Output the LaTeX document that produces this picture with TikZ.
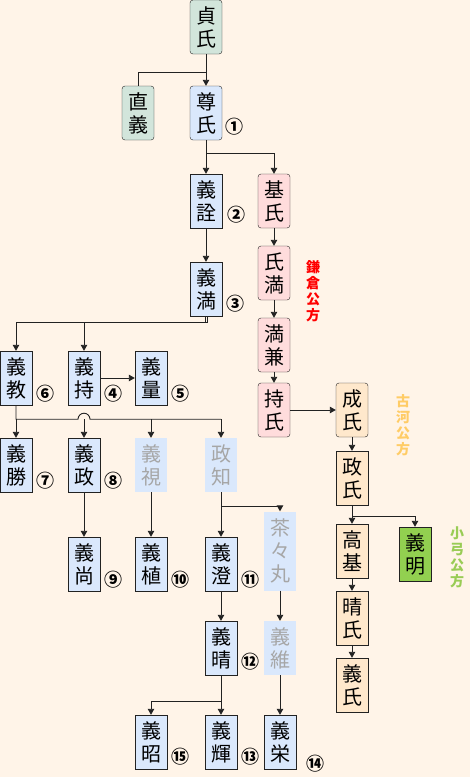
\documentclass[tikz,border=0pt]{standalone}
\usepackage{fontspec}
\setmainfont{Noto Sans CJK JP}
\usetikzlibrary{arrows.meta,positioning,calc}
\definecolor{paper}{HTML}{FFF4E8}
\definecolor{ashiblue}{HTML}{DAE8FC}
\definecolor{ashigreen}{HTML}{D2E5DB}
\definecolor{kamapink}{HTML}{FFDCDC}
\definecolor{kogaorange}{HTML}{FFE8CC}
\definecolor{oyumigreen}{HTML}{92D050}
\definecolor{linegray}{HTML}{222222}
\definecolor{fadetext}{HTML}{A6A6A6}
\definecolor{kamalabel}{HTML}{FF0000}
\definecolor{kogalabel}{HTML}{FFCC66}
\definecolor{oyumilabel}{HTML}{99CC55}

\begin{document}
\begin{tikzpicture}[x=1pt, y=-1pt,
  box/.style={draw=linegray, fill=ashiblue, minimum width=32pt, minimum height=54pt, inner sep=0pt, align=center, font=\fontsize{20}{23}\selectfont},
  rbox/.style={box, rounded corners=3pt},
  rootbox/.style={rbox, fill=ashigreen},
  kamabox/.style={rbox, fill=kamapink},
  kogabox/.style={box, fill=kogaorange},
  oyumibox/.style={box, fill=oyumigreen},
  fadebox/.style={box, draw=none, text=fadetext},
  num/.style={font=\fontsize{18}{18}\selectfont\bfseries, inner sep=0pt},
  kubo/.style={align=center, font=\fontsize{14}{16}\selectfont\bfseries},
  line/.style={line width=0.9pt, color=linegray},
  arr/.style={line, -{Triangle[width=6.5pt,length=6pt]}}
]
\useasboundingbox[fill=paper] (0,0) rectangle (470,777);

% Ashikaga shogun line
\node[rootbox] (sadauji) at (206,27) {貞\\氏};
\node[rootbox] (tadayoshi) at (138,113) {直\\義};
\node[rbox] (takauji) at (206,113) {尊\\氏};
\node[box] (yoshiakira) at (206,201) {義\\詮};
\node[box] (yoshimitsu) at (206,289) {義\\満};
\node[box] (yoshinori) at (16,378) {義\\教};
\node[box] (yoshimochi) at (84,378) {義\\持};
\node[box] (yoshikazu) at (151,378) {義\\量};
\node[box] (yoshikatsu) at (16,465) {義\\勝};
\node[box] (yoshimasa) at (84,465) {義\\政};
\node[fadebox] (yoshimi) at (151,465) {義\\視};
\node[fadebox] (masatomo) at (221,465) {政\\知};
\node[box] (yoshihisa) at (84,564) {義\\尚};
\node[box] (yoshitane) at (151,564) {義\\植};
\node[box] (yoshizumi) at (221,564) {義\\澄};
\node[fadebox, minimum height=79pt] (chachamaru) at (280,551) {茶\\々\\丸};
\node[box] (yoshiharu) at (221,648) {義\\晴};
\node[fadebox] (yoshitsuna) at (280,648) {義\\維};
\node[box] (yoshiteru) at (221,742) {義\\輝};
\node[box] (yoshihide) at (280,742) {義\\栄};
\node[box] (yoshiaki) at (151,742) {義\\昭};

% Kamakura kubo
\node[kamabox] (motouji) at (274,201) {基\\氏};
\node[kamabox] (ujimitsu) at (274,273) {氏\\満};
\node[kamabox] (mitsukane) at (274,345) {満\\兼};
\node[kamabox] (mochiuji) at (274,410) {持\\氏};

% Koga kubo and Oyumi kubo
\node[kogabox, rounded corners=3pt] (shigeuji) at (352,410) {成\\氏};
\node[kogabox] (masauji) at (352,478) {政\\氏};
\node[kogabox] (takamoto) at (352,551) {高\\基};
\node[kogabox] (haruuji) at (352,618) {晴\\氏};
\node[kogabox] (yoshiuji) at (352,685) {義\\氏};
\node[oyumibox] (oyumi) at (415,554) {義\\明};

\node[kubo, text=kamalabel] (kamakura) at (313,291) {鎌\\倉\\公\\方};
\node[kubo, text=kogalabel] (koga) at (403,425) {古\\河\\公\\方};
\node[kubo, text=oyumilabel] (oyumilab) at (457,557) {小\\弓\\公\\方};

% shogun numbers
\node[num] (n1) at (234,127) {①};
\node[num] (n2) at (236,215) {②};
\node[num] (n3) at (235,304) {③};
\node[num] (n4) at (113,394) {④};
\node[num] (n5) at (180,394) {⑤};
\node[num] (n6) at (45,394) {⑥};
\node[num] (n7) at (45,481) {⑦};
\node[num] (n8) at (113,481) {⑧};
\node[num] (n9) at (113,580) {⑨};
\node[num] (n10) at (180,580) {⑩};
\node[num] (n11) at (250,580) {⑪};
\node[num] (n12) at (250,662) {⑫};
\node[num] (n13) at (250,757) {⑬};
\node[num] (n14) at (315,764) {⑭};
\node[num] (n15) at (180,757) {⑮};

% connectors
\draw[arr] (sadauji) -- (takauji);
\draw[line] (sadauji.south) -- ++(0,18) -| (tadayoshi.north);
\draw[arr] (takauji) -- (yoshiakira);
\draw[arr] (takauji.south) -- ++(0,13) -| (motouji.north);
\draw[arr] (yoshiakira) -- (yoshimitsu);
\draw[arr] ([xshift=-1pt]yoshimitsu.south) -- ++(0,6) -| (yoshinori.north);
\draw[arr] ([xshift=1pt]yoshimitsu.south) -- ++(0,6) -| (yoshimochi.north);
\draw[arr] (yoshimochi) -- (yoshikazu);
\draw[arr] (motouji) -- (ujimitsu);
\draw[arr] (ujimitsu) -- (mitsukane);
\draw[arr] (mitsukane) -- (mochiuji);
\draw[arr] (mochiuji) -- (shigeuji);
\coordinate (kyo) at ($(yoshinori.south)+(0,14)$);
\draw[line] (yoshinori.south) -- (kyo) -- ([xshift=-6pt]kyo -| yoshimasa.north)
  arc[start angle=180, end angle=0, radius=6pt] -- (kyo -| masatomo.north);
\draw[arr] (kyo) -- (yoshikatsu.north);
\draw[arr] (kyo -| yoshimasa.north) -- (yoshimasa.north);
\draw[arr] (kyo -| yoshimi.north) -- (yoshimi.north);
\draw[arr] (kyo -| masatomo.north) -- (masatomo.north);
\draw[arr] (yoshimasa) -- (yoshihisa);
\draw[arr] (yoshimi) -- (yoshitane);
\draw[arr] (masatomo) -- (yoshizumi);
\draw[arr] (masatomo.south) -- ++(0,14) -| (chachamaru.north);
\draw[arr] (yoshizumi) -- (yoshiharu);
\draw[arr] (chachamaru) -- (yoshitsuna);
\draw[arr] (yoshiharu) -- (yoshiteru);
\draw[arr] (yoshiharu.south) -- ++(0,26) -| (yoshiaki.north);
\draw[arr] (yoshitsuna) -- (yoshihide);
\draw[arr] (shigeuji) -- (masauji);
\draw[arr] (masauji) -- (takamoto);
\draw[arr] (masauji.south) -- ++(0,11) -| (oyumi.north);
\draw[arr] (takamoto) -- (haruuji);
\draw[arr] (haruuji) -- (yoshiuji);
\end{tikzpicture}
\end{document}
